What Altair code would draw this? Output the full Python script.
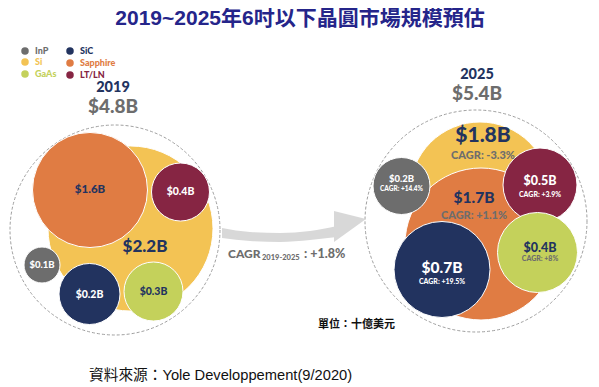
import altair as alt
import pandas as pd

# ---------------- data ----------------
categories = ["InP", "Si", "GaAs", "SiC", "Sapphire", "LT/LN"]
value_2019 = [0.1, 2.2, 0.3, 0.2, 1.6, 0.4]
value_2025 = [0.2, 1.8, 0.4, 0.7, 1.7, 0.5]
cagr_2025 = ["+14.4%", "-3.3%", "+8%", "+19.5%", "+1.1%", "+3.9%"]
total_2019 = 4.8
total_2025 = 5.4
total_cagr = "+1.8%"
title_text = "2019~2025年6吋以下晶圓市場規模預估"
source_text = "資料來源：Yole Developpement(9/2020)"
unit_text = "單位：十億美元"

# ---------------- styles / layout ----------------
fill = {"InP": "#6D6D6D", "Si": "#F3C354", "GaAs": "#C4D15B",
        "SiC": "#22335F", "Sapphire": "#E07C43", "LT/LN": "#862543"}
label_col = {"InP": "#FFFFFF", "Si": "#22335F", "GaAs": "#22335F",
             "SiC": "#FFFFFF", "Sapphire": "#22335F", "LT/LN": "#FFFFFF"}
cagr_col = {"InP": "#FFFFFF", "Si": "#6D6D6D", "GaAs": "#6D6D6D",
            "SiC": "#FFFFFF", "Sapphire": "#6D6D6D", "LT/LN": "#FFFFFF"}
NAVY = "#22335F"
GREY = "#6D6D6D"
FONT = "Lato, Open Sans, sans-serif"
CJK = "Liberation Sans, Noto Sans CJK TC, sans-serif"

# 2019 layout: cx, cy, diameter, label x, label y, font, draw order
lay19 = {
    "Si": (130.5, 228.5, 165, 145, 247, 17, 0),
    "Sapphire": (90, 190, 115, 90, 190, 11.5, 1),
    "LT/LN": (180.5, 192, 58, 180.5, 192, 10.5, 2),
    "InP": (42, 265, 36, 42, 265, 9.5, 3),
    "SiC": (89.5, 294, 61, 89.5, 295, 10.5, 4),
    "GaAs": (153.5, 291.5, 59, 153.5, 292, 10.5, 5),
}
# 2025 layout: cx, cy, diameter, label x, label y, font, cagr y, cagr font, order
lay25 = {
    "Si": (480, 192, 140, 483, 136, 21, 156, 11, 0),
    "Sapphire": (481, 244, 152, 474, 198, 15.5, 216, 11, 1),
    "InP": (401.5, 186, 57, 401.5, 179, 9.5, 189, 6.5, 2),
    "LT/LN": (540, 185, 74, 540, 181, 12.5, 195, 7, 3),
    "GaAs": (537.5, 252.5, 80, 540, 248, 12.5, 259, 7, 4),
    "SiC": (442, 269.5, 96, 442, 268, 15.5, 282, 7, 5),
}

rows = []
for c, v in zip(categories, value_2019):
    cx, cy, d, lx, ly, fs, o = lay19[c]
    rows.append(dict(cat=c, cx=cx, cy=cy, size=d * d, fill=fill[c], o=o))
for c, v in zip(categories, value_2025):
    cx, cy, d, lx, ly, fs, cyy, cfs, o = lay25[c]
    rows.append(dict(cat=c, cx=cx, cy=cy, size=d * d, fill=fill[c], o=10 + o))
bubbles = pd.DataFrame(rows).sort_values("o")

texts = []
def T(x, y, t, col, fs, w=900, align="center", font=FONT):
    texts.append(dict(x=x, y=y, t=t, col=col, fs=fs, w=w, align=align, font=font))

for c, v in zip(categories, value_2019):
    cx, cy, d, lx, ly, fs, o = lay19[c]
    T(lx, ly, f"${v}B", label_col[c], fs)
for c, v, g in zip(categories, value_2025, cagr_2025):
    cx, cy, d, lx, ly, fs, cyy, cfs, o = lay25[c]
    T(lx, ly, f"${v}B", label_col[c], fs)
    T(lx, cyy, f"CAGR: {g}", cagr_col[c], cfs)

T(113, 88, "2019", NAVY, 14.5)
T(113, 107, f"${total_2019}B", GREY, 19)
T(477, 75, "2025", NAVY, 14.5)
T(477, 94, f"${total_2025}B", GREY, 19)
T(228, 254, "CAGR", GREY, 12, align="left")
T(262, 258, "2019-2025", GREY, 7.5, align="left")
T(304, 254, f": {total_cagr}", GREY, 12.5, align="left")
T(300, 19, title_text, "#25258A", 21, w="bold", font=CJK)
T(89, 376, source_text, "#111111", 14.7, w="normal", align="left", font=CJK)
T(318, 325, unit_text, "#111111", 11, w="bold", align="left", font=CJK)

# legend
legend_rows = []
leg_pos = {"InP": (25, 51), "Si": (25, 62), "GaAs": (25, 74),
           "SiC": (70, 51), "Sapphire": (70, 63), "LT/LN": (70, 75)}
for c in categories:
    x, y = leg_pos[c]
    legend_rows.append(dict(cx=x, cy=y, size=56, fill=fill[c], o=0))
    T(x + 10, y, c, fill[c], 9, align="left")
legend = pd.DataFrame(legend_rows)
text_df = pd.DataFrame(texts)
text_df["w"] = text_df["w"].astype(str)

dashed = pd.DataFrame(dict(cx=[115, 476], cy=[230, 221], size=[210 ** 2, 222 ** 2]))

band = pd.DataFrame(dict(x=[222, 250, 280, 310, 337],
                         y=[228, 232, 233, 231, 226],
                         y2=[238, 241, 242, 240, 237]))
head = pd.DataFrame(dict(x=[334, 366], y=[211, 219], y2=[242, 219]))

# ---------------- chart ----------------
W, H = 583, 371
xs = alt.Scale(domain=[8, 8 + W])
ys = alt.Scale(domain=[8, 8 + H], reverse=True)
X = lambda f: alt.X(f, type="quantitative", scale=xs, axis=None)
Y = lambda f: alt.Y(f, type="quantitative", scale=ys, axis=None)

dash_layer = alt.Chart(dashed).mark_point(
    shape="circle", filled=False, stroke="#777777", strokeWidth=1, strokeDash=[3, 2]
).encode(x=X("cx"), y=Y("cy"), size=alt.Size("size:Q", scale=None))

arrow_band = alt.Chart(band).mark_area(color="#D8D8D8", interpolate="monotone").encode(
    x=X("x"), y=Y("y"), y2="y2")
arrow_head = alt.Chart(head).mark_area(color="#D8D8D8").encode(
    x=X("x"), y=Y("y"), y2="y2")

bubble_layer = alt.Chart(bubbles).mark_point(
    shape="circle", filled=True, opacity=1, stroke="white", strokeWidth=1
).encode(x=X("cx"), y=Y("cy"), size=alt.Size("size:Q", scale=None),
         fill=alt.Fill("fill:N", scale=None), order=alt.Order("o:Q"))

legend_layer = alt.Chart(legend).mark_point(
    shape="circle", filled=True, opacity=1, strokeWidth=0
).encode(x=X("cx"), y=Y("cy"), size=alt.Size("size:Q", scale=None),
         fill=alt.Fill("fill:N", scale=None))

text_layers = []
for (align, w, font), sub in text_df.groupby(["align", "w", "font"]):
    wv = int(w) if w.isdigit() else w
    text_layers.append(
        alt.Chart(sub).mark_text(align=align, baseline="middle", fontWeight=wv, font=font)
        .encode(x=X("x"), y=Y("y"), text="t:N",
                color=alt.Color("col:N", scale=None),
                size=alt.Size("fs:Q", scale=None)))

chart = alt.layer(dash_layer, arrow_band, arrow_head, bubble_layer, legend_layer,
                  *text_layers).properties(width=W, height=H, padding=0,
                                           background="white"
                                           ).configure_view(strokeWidth=0)

chart.save("out.html", embed_options={"renderer": "svg", "actions": False})
